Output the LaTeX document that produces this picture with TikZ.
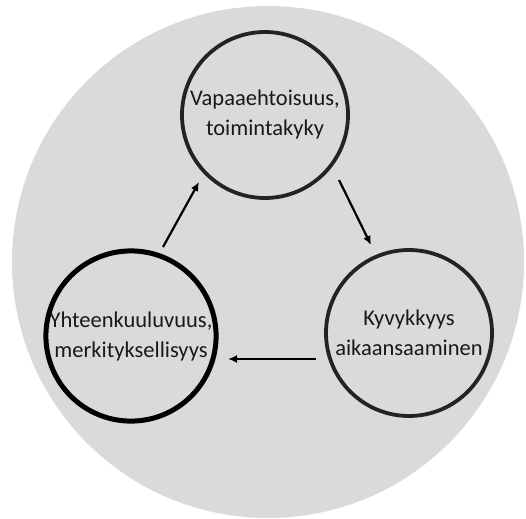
\documentclass[tikz,border=0pt]{standalone}
\usepackage{fontspec}
\setmainfont{Carlito}
\usetikzlibrary{arrows.meta}
\definecolor{bggray}{RGB}{218,218,218}
\definecolor{ink}{RGB}{35,35,35}
\begin{document}
\begin{tikzpicture}[x=1pt,y=-1pt,
  ring/.style={circle,draw=ink,line width=3.8pt,minimum size=166pt,inner sep=0pt,align=center,
    font=\fontsize{22.5}{30}\selectfont,text=black!90},
  flow/.style={-{Latex[length=9pt,width=8pt]},line width=2.2pt,draw=black}]
\useasboundingbox (0,0) rectangle (526,518);
\fill[bggray] (268,262) circle (256);
\node[ring] (top) at (265,115) {Vapaaehtoisuus,\\toimintakyky};
\node[ring,line width=5pt,draw=black] (left) at (131,336) {Yhteenkuuluvuus,\\merkityksellisyys};
\node[ring] (right) at (409,333) {Kyvykkyys\\aikaansaaminen};
\coordinate (a1) at (163,247); \coordinate (a2) at (199,182);
\coordinate (b1) at (339,180); \coordinate (b2) at (371,245);
\coordinate (c1) at (316,359); \coordinate (c2) at (228,359);
\draw[flow] (a1) -- (a2);
\draw[flow] (b1) -- (b2);
\draw[flow] (c1) -- (c2);
\end{tikzpicture}
\end{document}
